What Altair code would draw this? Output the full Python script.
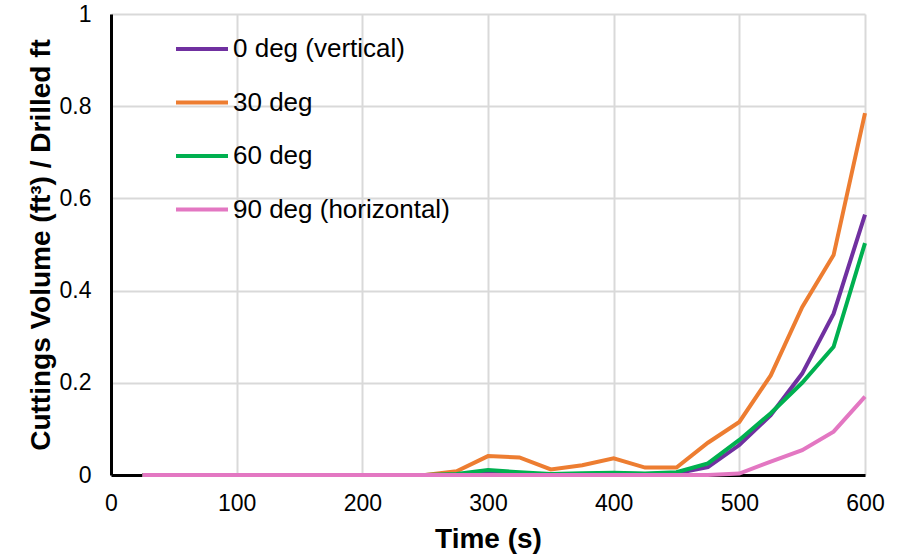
import altair as alt
import pandas as pd

times = [25, 50, 75, 100, 125, 150, 175, 200, 225, 250, 275, 300, 325, 350, 375, 400,
         425, 450, 475, 500, 525, 550, 575, 600]

deg0 = [0, 0, 0, 0, 0, 0, 0, 0, 0, 0, 0.001, 0.004, 0.003, 0.001, 0.002, 0.003,
        0.002, 0.004, 0.017, 0.065, 0.130, 0.220, 0.350, 0.565]
deg30 = [0, 0, 0, 0, 0, 0, 0, 0, 0, 0, 0.008, 0.041, 0.038, 0.012, 0.021, 0.036,
         0.016, 0.016, 0.070, 0.115, 0.216, 0.364, 0.477, 0.785]
deg60 = [0, 0, 0, 0, 0, 0, 0, 0, 0, 0, 0.002, 0.011, 0.006, 0.002, 0.004, 0.005,
         0.003, 0.006, 0.025, 0.076, 0.134, 0.200, 0.278, 0.503]
deg90 = [0, 0, 0, 0, 0, 0, 0, 0, 0, 0, 0, 0, 0, 0, 0, 0,
         0, 0, 0, 0.003, 0.029, 0.054, 0.094, 0.170]

series_names = ["0 deg (vertical)", "30 deg", "60 deg", "90 deg (horizontal)"]
series_colors = ["#7030A0", "#ED7D31", "#00B050", "#E377C2"]
series_values = [deg0, deg30, deg60, deg90]

rows = []
for order, (name, vals) in enumerate(zip(series_names, series_values)):
    for t, v in zip(times, vals):
        rows.append({"Time": t, "Value": v, "Series": name, "order": order})
df = pd.DataFrame(rows)

FONT = "Liberation Sans"

chart = alt.Chart(df).mark_line(strokeWidth=4, strokeJoin="miter").encode(
    x=alt.X("Time:Q",
            scale=alt.Scale(domain=[0, 600], nice=False, zero=True),
            axis=alt.Axis(values=[0, 100, 200, 300, 400, 500, 600], title="Time (s)",
                          format="d", labelFlush=False)),
    y=alt.Y("Value:Q",
            scale=alt.Scale(domain=[0, 1], nice=False),
            axis=alt.Axis(values=[0, 0.2, 0.4, 0.6, 0.8, 1], title="Cuttings Volume (ft³) / Drilled ft",
                          format="~g", labelFlush=False)),
    color=alt.Color("Series:N",
                    scale=alt.Scale(domain=series_names, range=series_colors),
                    sort=series_names,
                    legend=alt.Legend(title=None, orient="none", legendX=63, legendY=7,
                                      symbolType="stroke", symbolSize=2704,
                                      symbolStrokeWidth=4, labelFontSize=26,
                                      labelFont=FONT, labelColor="#000000",
                                      labelLimit=500,
                                      labelOffset=3, rowPadding=12.5)),
    detail="Series:N",
    order="order:Q",
).properties(
    width=754,
    height=461,
    autosize=alt.AutoSizeParams(type="none"),
    padding={"left": 111, "top": 14, "right": 45, "bottom": 84},
).configure_view(
    stroke=None
).configure_axis(
    labelFont=FONT,
    labelFontSize=23,
    labelColor="#000000",
    titleFont=FONT,
    titleFontSize=28,
    titleFontWeight="bold",
    titleColor="#000000",
    gridColor="#d9d9d9",
    gridWidth=2,
    domainColor="#000000",
    domainWidth=3,
    ticks=False,
).configure_axisX(
    labelPadding=17,
    titlePadding=10,
).configure_axisY(
    labelPadding=20,
    titlePadding=4,
)

chart.save("out.html", embed_options={"renderer": "svg", "actions": False})
